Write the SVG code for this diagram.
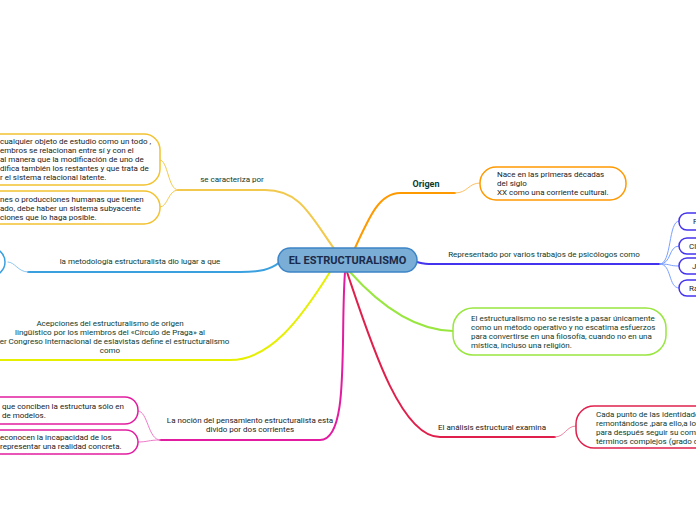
<svg xmlns="http://www.w3.org/2000/svg" width="696" height="520" viewBox="0 0 696 520">
<style>
text{font-family:Roboto,"Liberation Sans",sans-serif;font-size:8px;fill:#222}
.lab{fill:#0d3b2e}
.c{fill:none;stroke-linecap:round}
.box{fill:#fff;stroke-width:1.5}
</style>
<rect width="696" height="520" fill="#fff"/>
<g id="connectors">
<path class="c" d="M335 250 C310 215 300 190 265 190 L178 190" stroke="#f2c94c" stroke-width="2"/>
<path class="c" d="M178 190 C168 190 168 160 160 160 M178 190 C168 190 168 207 160 207" stroke="#f2c94c" stroke-width="1"/>
<path class="c" d="M280 262 C270 270 260 272 240 272 L28 272" stroke="#3aa0e0" stroke-width="2"/>
<path class="c" d="M28 272 C18 272 15 262 8 262" stroke="#8cc8f0" stroke-width="1"/>
<path class="c" d="M330 272 C300 320 270 360 230 360 L0 360" stroke="#e6ef00" stroke-width="2"/>
<path class="c" d="M345 272 C340 340 350 440 320 440 L160 440" stroke="#e21ca0" stroke-width="2"/>
<path class="c" d="M160 440 C148 440 148 411 138 411 M160 440 C148 440 148 442 138 442" stroke="#f07ac8" stroke-width="1"/>
<path class="c" d="M355 248 C370 215 380 193 400 193 L455 193" stroke="#ff9900" stroke-width="2"/>
<path class="c" d="M455 193 C468 193 468 183 480 183" stroke="#ffc060" stroke-width="1"/>
<path class="c" d="M417 262 C425 264 425 264 435 264 L660 264" stroke="#4433ee" stroke-width="2"/>
<path class="c" d="M660 264 C672 264 668 221 679 221 M660 264 C672 264 668 246 679 246 M660 264 C672 264 668 266 679 266 M660 264 C672 264 668 288 679 288" stroke="#7aa0ff" stroke-width="1"/>
<path class="c" d="M350 272 C375 300 410 330 453 331" stroke="#99e640" stroke-width="2"/>
<path class="c" d="M347 272 C370 340 400 437 440 437 L555 437" stroke="#e0204c" stroke-width="2"/>
<path class="c" d="M555 437 C565 437 566 426 576 426" stroke="#f080a0" stroke-width="1"/>
</g>
<g id="center">
<rect x="278" y="248" width="139" height="24" rx="12" fill="#7aaed6" stroke="#3d85c6" stroke-width="1.5"/>
<text x="347.5" y="264" text-anchor="middle" style="font-size:11px;font-weight:bold;fill:#1a2a4a">EL ESTRUCTURALISMO</text>
</g>
<g id="caracteriza">
<text x="232" y="182" text-anchor="middle" class="lab">se caracteriza por</text>
<rect class="box" x="-40" y="134" width="200" height="51" rx="16" stroke="#f2c230"/>
<text x="0" y="144">cualquier objeto de estudio como un todo ,</text>
<text x="0" y="153">embros se relacionan entre sí y con el</text>
<text x="0" y="162">al manera que la modificación de uno de</text>
<text x="0" y="171">difica también los restantes y que trata de</text>
<text x="0" y="180">r el sistema relacional latente.</text>
<rect class="box" x="-40" y="191" width="200" height="33" rx="16" stroke="#f2c230"/>
<text x="0" y="202">nes o producciones humanas que tienen</text>
<text x="0" y="211">ado, debe haber un sistema subyacente</text>
<text x="0" y="220">ciones que lo haga posible.</text>
</g>
<g id="metodologia">
<text x="140" y="264" text-anchor="middle" class="lab">la metodología estructuralista dio lugar a que</text>
<rect class="box" x="-30" y="248" width="35" height="28" rx="14" stroke="#3aa0e0"/>
</g>
<g id="acepciones">
<text x="110" y="326" text-anchor="middle" class="lab">Acepciones del estructuralismo de origen</text>
<text x="110" y="335" text-anchor="middle" class="lab">lingüístico por los miembros del «Círculo de Praga» al</text>
<text x="110" y="344" text-anchor="middle" class="lab">imer Congreso Internacional de eslavistas define el estructuralismo</text>
<text x="110" y="353" text-anchor="middle" class="lab">como</text>
</g>
<g id="nocion">
<text x="250" y="423" text-anchor="middle">La noción del pensamiento estructuralista esta</text>
<text x="250" y="432" text-anchor="middle">divido por dos corrientes</text>
<rect class="box" x="-40" y="397" width="178" height="27" rx="13" stroke="#e21ca0"/>
<text x="2" y="409">que conciben la estructura sólo en</text>
<text x="2" y="418">de modelos.</text>
<rect class="box" x="-40" y="430" width="178" height="24" rx="12" stroke="#e21ca0"/>
<text x="0" y="440">econocen la incapacidad de los</text>
<text x="0" y="449">representar una realidad concreta.</text>
</g>
<g id="origen">
<text x="426" y="187" text-anchor="middle" class="lab" style="font-size:9px;font-weight:bold">Origen</text>
<rect class="box" x="480" y="167" width="146" height="33" rx="16" stroke="#ff9900"/>
<text x="497" y="177">Nace en las primeras décadas</text>
<text x="497" y="186">del siglo</text>
<text x="497" y="195">XX como una corriente cultural.</text>
</g>
<g id="representado">
<text x="544" y="257" text-anchor="middle" class="lab">Representado por varios trabajos de psicólogos como</text>
<rect class="box" x="679" y="213" width="40" height="17" rx="8" stroke="#4433ee"/><text x="693" y="224">F</text>
<rect class="box" x="679" y="238" width="40" height="16" rx="8" stroke="#4433ee"/><text x="689" y="249">Cl</text>
<rect class="box" x="679" y="258" width="40" height="16" rx="8" stroke="#4433ee"/><text x="692" y="269">J</text>
<rect class="box" x="679" y="280" width="40" height="16" rx="8" stroke="#4433ee"/><text x="689" y="291">Ra</text>
</g>
<g id="filosofia">
<rect class="box" x="453" y="308" width="213" height="47" rx="20" stroke="#99e640"/>
<text x="471" y="321" class="lab">El estructuralismo no se resiste a pasar únicamente</text>
<text x="471" y="330" class="lab">como un método operativo y no escatima esfuerzos</text>
<text x="471" y="339" class="lab">para convertirse en una filosofía, cuando no en una</text>
<text x="471" y="348" class="lab">mística, incluso una religión.</text>
</g>
<g id="analisis">
<text x="492" y="430" text-anchor="middle">El análisis estructural examina</text>
<rect class="box" x="576" y="406" width="140" height="42" rx="18" stroke="#e0204c"/>
<text x="596" y="417" class="lab">Cada punto de las identidades</text>
<text x="596" y="426" class="lab">remontándose ,para ello,a los</text>
<text x="596" y="435" class="lab">para después seguir su compo</text>
<text x="596" y="444" class="lab">términos complejos (grado de</text>
</g>
</svg>
